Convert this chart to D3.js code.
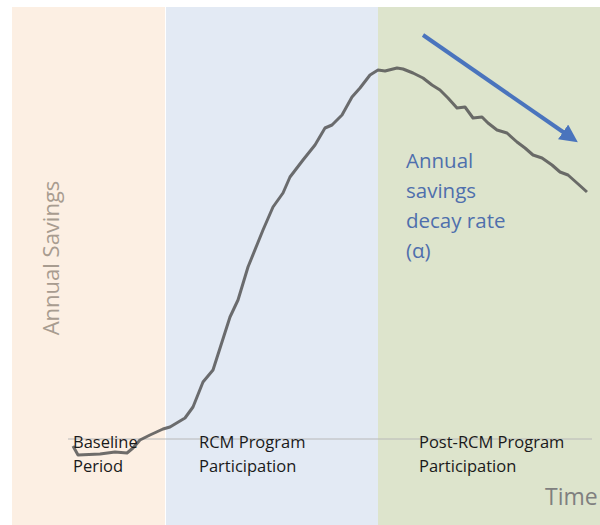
<!DOCTYPE html>
<html>
<head>
<meta charset="utf-8">
<script src="https://cdn.jsdelivr.net/npm/d3@7"></script>
<style>
  html, body { margin: 0; padding: 0; background: #fff; }
  svg { display: block; font-family: "Open Sans", sans-serif; }
</style>
</head>
<body>
<svg id="chart" width="600" height="525"></svg>
<script>
// Time (arbitrary units) and annual savings
const times   = [0, 5, 27, 42, 54, 60, 67, 77, 90, 97, 112, 120, 130, 140, 157, 165, 175, 190, 200, 210, 217,
                 230, 242, 252, 259, 269, 279, 287, 297, 305, 312, 324, 330, 340, 350, 359, 367, 375, 384,
                 392, 400, 409, 415, 424, 434, 444, 452, 460, 469, 479, 487, 495, 504, 514];
const savings = [-7, -16, -15, -13, -14, -9, -1, 4, 10, 12, 21, 32, 57, 69, 122, 139, 172, 209, 232, 246, 262,
                 279, 294, 311, 314, 324, 342, 351, 364, 369, 368, 371, 370, 366, 361, 354, 349, 341, 331,
                 332, 321, 322, 316, 309, 306, 297, 291, 284, 281, 274, 267, 264, 256, 247];

// Shaded periods
const periods    = ['Baseline', 'RCM Program', 'Post-RCM'];
const periodFrom = [-61, 93, 305];
const periodTo   = [92, 305, 527];
const periodFill = ['#fcefe3', '#e3eaf4', '#dde4cc'];
const periodText = [['Baseline', 'Period'], ['RCM Program', 'Participation'], ['Post-RCM Program', 'Participation']];
const periodTextAt = [0, 126, 346];

const svg = d3.select('#chart');
const x = d3.scaleLinear().domain([0, 515]).range([73, 588]);
const y = d3.scaleLinear().domain([0, 370]).range([439, 69]);

// Period backgrounds
svg.append('g').selectAll('rect')
  .data(periods).enter().append('rect')
  .attr('x', (d, i) => x(periodFrom[i]))
  .attr('width', (d, i) => x(periodTo[i]) - x(periodFrom[i]))
  .attr('y', y(432))
  .attr('height', 525 - y(432))
  .attr('fill', (d, i) => periodFill[i]);

// Horizontal axis
svg.append('line')
  .attr('x1', x(-5)).attr('x2', x(519))
  .attr('y1', y(0)).attr('y2', y(0))
  .attr('stroke', '#b8b8b8').attr('stroke-width', 1);

// Savings curve
const line = d3.line().x((d, i) => x(times[i])).y(d => y(d));
svg.append('path')
  .datum(savings)
  .attr('d', line)
  .attr('fill', 'none')
  .attr('stroke', '#555')
  .attr('stroke-opacity', 0.85)
  .attr('stroke-width', 3)
  .attr('stroke-linejoin', 'round');

// Period labels
const lbl = svg.append('g').attr('font-size', 16.5).attr('fill', '#1a1a1a');
periods.forEach((p, i) => {
  const t = lbl.append('text').attr('x', x(periodTextAt[i])).attr('y', 448);
  periodText[i].forEach((s, j) => t.append('tspan').attr('x', x(periodTextAt[i])).attr('dy', j ? 24 : 0).text(s));
});

// Axis titles
svg.append('text')
  .attr('transform', `translate(59,258) rotate(-90)`)
  .attr('text-anchor', 'middle')
  .attr('font-size', 22)
  .attr('fill', '#a89c90')
  .text('Annual Savings');

svg.append('text')
  .attr('x', 545).attr('y', 505)
  .attr('font-size', 23)
  .attr('fill', '#7f7f7f')
  .text('Time');

// Decay annotation
const blue = '#4a74bd';
svg.append('defs').append('marker')
  .attr('id', 'head')
  .attr('viewBox', '0 -5 10 10')
  .attr('refX', 2).attr('refY', 0)
  .attr('markerWidth', 4.5).attr('markerHeight', 4.5)
  .attr('orient', 'auto')
  .append('path')
  .attr('d', 'M0,-5L10,0L0,5Z')
  .attr('fill', blue);

svg.append('line')
  .attr('x1', 423).attr('y1', 35)
  .attr('x2', 566).attr('y2', 134)
  .attr('stroke', blue).attr('stroke-width', 4)
  .attr('marker-end', 'url(#head)');

const ann = svg.append('text').attr('font-size', 20.5).attr('fill', '#4f6fad');
['Annual', 'savings', 'decay rate', '(\u03b1)'].forEach((s, j) =>
  ann.append('tspan').attr('x', 406).attr('y', 168 + j * 30).text(s));
</script>
</body>
</html>
